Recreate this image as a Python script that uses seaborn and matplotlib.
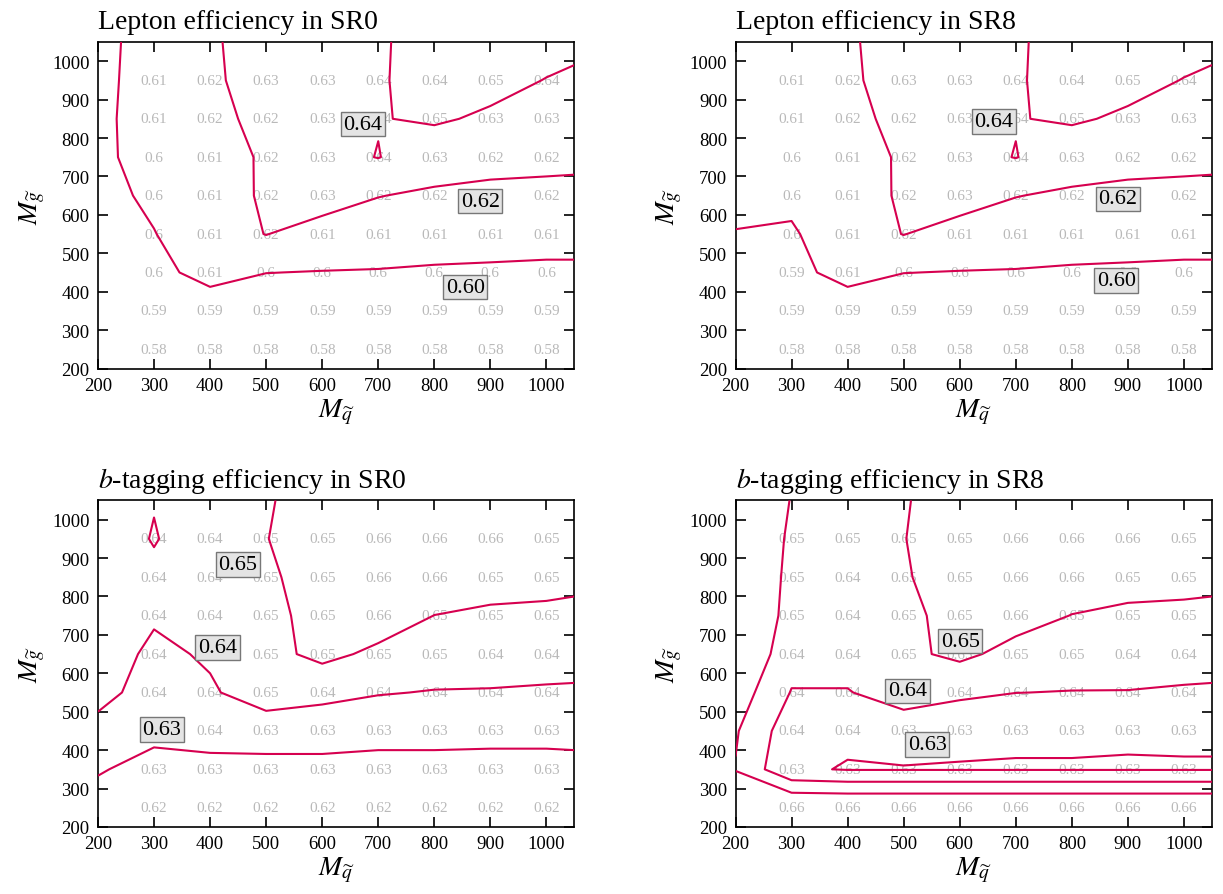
import numpy as np
import matplotlib.pyplot as plt
import seaborn as sns

sns.set_style('ticks')
plt.rcParams['font.family'] = ['Liberation Serif', 'DejaVu Serif']
plt.rcParams['mathtext.fontset'] = 'stix'

# nodes of the (unrounded) efficiency maps used for the contour lines
msq_nodes = [200, 300, 400, 500, 600, 700, 800, 900, 1000, 1050]
mgl_nodes = [200, 250, 350, 450, 550, 650, 750, 850, 950, 1050]

# rows follow mgl_nodes (bottom -> top), columns follow msq_nodes
lep_sr0 = [
    [0.570, 0.575, 0.575, 0.575, 0.575, 0.575, 0.575, 0.575, 0.575, 0.575],
    [0.575, 0.580, 0.580, 0.580, 0.580, 0.580, 0.580, 0.580, 0.580, 0.580],
    [0.585, 0.588, 0.590, 0.590, 0.590, 0.590, 0.590, 0.590, 0.590, 0.590],
    [0.590, 0.595, 0.606, 0.6002, 0.5995, 0.599, 0.598, 0.5975, 0.597, 0.597],
    [0.593, 0.5995, 0.610, 0.6205, 0.611, 0.610, 0.608, 0.607, 0.606, 0.606],
    [0.595, 0.603, 0.6075, 0.6235, 0.630, 0.6205, 0.617, 0.615, 0.614, 0.614],
    [0.5975, 0.6045, 0.608, 0.6235, 0.634, 0.6405, 0.630, 0.627, 0.626, 0.625],
    [0.5975, 0.605, 0.613, 0.627, 0.634, 0.6393, 0.642, 0.6375, 0.633, 0.632],
    [0.597, 0.605, 0.6155, 0.6315, 0.634, 0.6385, 0.646, 0.645, 0.6395, 0.637],
    [0.5965, 0.605, 0.616, 0.634, 0.634, 0.6385, 0.645, 0.647, 0.646, 0.6445],
]
lep_sr8 = [
    [0.570, 0.575, 0.575, 0.575, 0.575, 0.575, 0.575, 0.575, 0.575, 0.575],
    [0.575, 0.580, 0.580, 0.580, 0.580, 0.580, 0.580, 0.580, 0.580, 0.580],
    [0.585, 0.588, 0.590, 0.590, 0.590, 0.590, 0.590, 0.590, 0.590, 0.590],
    [0.592, 0.595, 0.606, 0.6002, 0.5995, 0.599, 0.598, 0.5975, 0.597, 0.597],
    [0.5995, 0.5982, 0.610, 0.6205, 0.611, 0.610, 0.608, 0.607, 0.606, 0.606],
    [0.6035, 0.6035, 0.6075, 0.6235, 0.630, 0.6205, 0.617, 0.615, 0.614, 0.614],
    [0.605, 0.6045, 0.608, 0.6235, 0.634, 0.6405, 0.630, 0.627, 0.626, 0.625],
    [0.605, 0.605, 0.613, 0.627, 0.634, 0.6393, 0.642, 0.6375, 0.633, 0.632],
    [0.605, 0.605, 0.6155, 0.6315, 0.634, 0.6385, 0.646, 0.645, 0.6395, 0.637],
    [0.605, 0.605, 0.616, 0.634, 0.634, 0.6385, 0.645, 0.647, 0.646, 0.6445],
]
btag_sr0 = [
    [0.622, 0.617, 0.617, 0.617, 0.617, 0.617, 0.617, 0.617, 0.617, 0.617],
    [0.625, 0.620, 0.620, 0.620, 0.620, 0.620, 0.620, 0.620, 0.620, 0.620],
    [0.631, 0.626, 0.627, 0.6264, 0.627, 0.6265, 0.6265, 0.6265, 0.6265, 0.6265],
    [0.637, 0.633, 0.634, 0.6354, 0.6345, 0.6335, 0.6335, 0.633, 0.633, 0.6335],
    [0.643, 0.636, 0.639, 0.6442, 0.6425, 0.6405, 0.6396, 0.6395, 0.6392, 0.639],
    [0.6445, 0.6382, 0.641, 0.647, 0.6525, 0.648, 0.645, 0.644, 0.643, 0.643],
    [0.645, 0.641, 0.644, 0.646, 0.655, 0.655, 0.6499, 0.648, 0.6475, 0.647],
    [0.6455, 0.6482, 0.6445, 0.647, 0.658, 0.658, 0.656, 0.655, 0.654, 0.653],
    [0.645, 0.6505, 0.645, 0.6495, 0.660, 0.660, 0.659, 0.658, 0.657, 0.656],
    [0.645, 0.6496, 0.645, 0.648, 0.660, 0.660, 0.659, 0.658, 0.657, 0.656],
]
btag_sr8 = [
    [0.668, 0.665, 0.665, 0.665, 0.665, 0.665, 0.665, 0.665, 0.665, 0.665],
    [0.662, 0.662, 0.662, 0.662, 0.662, 0.662, 0.662, 0.662, 0.662, 0.662],
    [0.6495, 0.6313, 0.6295, 0.6295, 0.6295, 0.6295, 0.6295, 0.6295, 0.6295, 0.6295],
    [0.651, 0.634, 0.6315, 0.6345, 0.632, 0.6312, 0.6312, 0.6308, 0.631, 0.631],
    [0.6555, 0.6395, 0.6395, 0.6445, 0.642, 0.6401, 0.6397, 0.6397, 0.6392, 0.639],
    [0.660, 0.644, 0.644, 0.648, 0.652, 0.647, 0.6455, 0.6445, 0.6432, 0.643],
    [0.663, 0.646, 0.6445, 0.6465, 0.655, 0.6535, 0.6498, 0.6485, 0.6482, 0.648],
    [0.663, 0.647, 0.644, 0.6485, 0.658, 0.658, 0.655, 0.653, 0.6525, 0.652],
    [0.663, 0.648, 0.6455, 0.6495, 0.660, 0.660, 0.658, 0.656, 0.655, 0.654],
    [0.663, 0.6495, 0.646, 0.6485, 0.660, 0.660, 0.658, 0.656, 0.655, 0.655],
]

# printed (rounded) values at the simulated mass points
msq_pts = [300, 400, 500, 600, 700, 800, 900, 1000]
mgl_pts = [250, 350, 450, 550, 650, 750, 850, 950]

lep_sr0_txt = [
    [0.58, 0.58, 0.58, 0.58, 0.58, 0.58, 0.58, 0.58],
    [0.59, 0.59, 0.59, 0.59, 0.59, 0.59, 0.59, 0.59],
    [0.6, 0.61, 0.6, 0.6, 0.6, 0.6, 0.6, 0.6],
    [0.6, 0.61, 0.62, 0.61, 0.61, 0.61, 0.61, 0.61],
    [0.6, 0.61, 0.62, 0.63, 0.62, 0.62, 0.62, 0.62],
    [0.6, 0.61, 0.62, 0.63, 0.64, 0.63, 0.62, 0.62],
    [0.61, 0.62, 0.62, 0.63, 0.64, 0.65, 0.63, 0.63],
    [0.61, 0.62, 0.63, 0.63, 0.64, 0.64, 0.65, 0.64],
]
lep_sr8_txt = [
    [0.58, 0.58, 0.58, 0.58, 0.58, 0.58, 0.58, 0.58],
    [0.59, 0.59, 0.59, 0.59, 0.59, 0.59, 0.59, 0.59],
    [0.59, 0.61, 0.6, 0.6, 0.6, 0.6, 0.6, 0.6],
    [0.6, 0.61, 0.62, 0.61, 0.61, 0.61, 0.61, 0.61],
    [0.6, 0.61, 0.62, 0.63, 0.62, 0.62, 0.62, 0.62],
    [0.6, 0.61, 0.62, 0.63, 0.64, 0.63, 0.62, 0.62],
    [0.61, 0.62, 0.62, 0.63, 0.64, 0.65, 0.63, 0.63],
    [0.61, 0.62, 0.63, 0.63, 0.64, 0.64, 0.65, 0.64],
]
btag_sr0_txt = [
    [0.62, 0.62, 0.62, 0.62, 0.62, 0.62, 0.62, 0.62],
    [0.63, 0.63, 0.63, 0.63, 0.63, 0.63, 0.63, 0.63],
    [0.63, 0.64, 0.63, 0.63, 0.63, 0.63, 0.63, 0.63],
    [0.64, 0.64, 0.65, 0.64, 0.64, 0.64, 0.64, 0.64],
    [0.64, 0.64, 0.65, 0.65, 0.65, 0.65, 0.64, 0.64],
    [0.64, 0.64, 0.65, 0.65, 0.66, 0.65, 0.65, 0.65],
    [0.64, 0.64, 0.65, 0.65, 0.66, 0.66, 0.65, 0.65],
    [0.64, 0.64, 0.65, 0.65, 0.66, 0.66, 0.66, 0.65],
]
btag_sr8_txt = [
    [0.66, 0.66, 0.66, 0.66, 0.66, 0.66, 0.66, 0.66],
    [0.63, 0.63, 0.63, 0.63, 0.63, 0.63, 0.63, 0.63],
    [0.64, 0.64, 0.63, 0.63, 0.63, 0.63, 0.63, 0.63],
    [0.64, 0.64, 0.64, 0.64, 0.64, 0.64, 0.64, 0.64],
    [0.64, 0.64, 0.65, 0.65, 0.65, 0.65, 0.64, 0.64],
    [0.65, 0.64, 0.65, 0.65, 0.66, 0.65, 0.65, 0.65],
    [0.65, 0.64, 0.65, 0.65, 0.66, 0.66, 0.65, 0.65],
    [0.65, 0.65, 0.65, 0.65, 0.66, 0.66, 0.66, 0.65],
]

lep_levels = [0.60, 0.62, 0.64]
btag_levels = [0.63, 0.64, 0.65]

# where the boxed level labels sit (msq, mgl), one per level
lep_sr0_lab = [(855, 412), (882, 636), (673, 836)]
lep_sr8_lab = [(879, 429), (882, 642), (661, 843)]
btag_sr0_lab = [(314, 454), (413, 667), (450, 883)]
btag_sr8_lab = [(542, 415), (507, 554), (601, 684)]

panels = [
    ('Lepton efficiency in SR0', lep_sr0, lep_sr0_txt, lep_levels, lep_sr0_lab),
    ('Lepton efficiency in SR8', lep_sr8, lep_sr8_txt, lep_levels, lep_sr8_lab),
    ('$b$-tagging efficiency in SR0', btag_sr0, btag_sr0_txt, btag_levels, btag_sr0_lab),
    ('$b$-tagging efficiency in SR8', btag_sr8, btag_sr8_txt, btag_levels, btag_sr8_lab),
]

line_col = '#d6004f'

fig, axes = plt.subplots(2, 2, figsize=(12.23, 8.95), dpi=100)
fig.subplots_adjust(left=0.0801, right=0.991, top=0.952, bottom=0.0749,
                    wspace=0.338, hspace=0.404)

for ax, (title, field, txt, levels, lab) in zip(axes.flat, panels):
    ax.contour(msq_nodes, mgl_nodes, np.array(field), levels=levels,
               colors=line_col, linewidths=1.5, zorder=3)

    # printed efficiency values
    for j, y in enumerate(mgl_pts):
        for i, x in enumerate(msq_pts):
            ax.text(x, y, f'{txt[j][i]:g}', ha='center', va='center',
                    fontsize=11, color='#b9b9b9', zorder=1)

    # boxed contour labels
    for lv, (lx, ly) in zip(levels, lab):
        ax.text(lx, ly, f'{lv:.2f}', ha='center', va='center', fontsize=16,
                color='black', zorder=5,
                bbox=dict(boxstyle='square,pad=0.12', facecolor='#e4e4e4',
                          edgecolor='#777777', linewidth=1.0))

    ax.set_xlim(200, 1050)
    ax.set_ylim(200, 1050)
    ax.set_xticks(range(200, 1001, 100))
    ax.set_yticks(range(200, 1001, 100))
    ax.tick_params(direction='in', top=True, right=True, length=7, width=1.2,
                   labelsize=13.5, pad=6, colors='black')
    for sp in ax.spines.values():
        sp.set_linewidth(1.2)
        sp.set_color('black')
    ax.set_title(title, loc='left', fontsize=20, pad=10, color='black')
    ax.set_xlabel(r'$M_{\widetilde{q}}$', fontsize=20, labelpad=2, color='black')
    ax.set_ylabel(r'$M_{\widetilde{g}}$', fontsize=20, labelpad=4, color='black')

fig.savefig('out.png', dpi=100)
